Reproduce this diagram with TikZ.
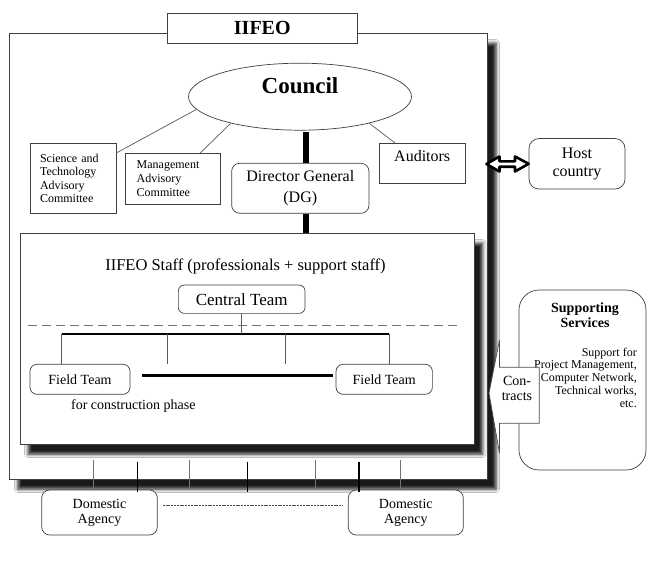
\documentclass[tikz,border=0pt]{standalone}
\usepackage{fontspec}
\setmainfont{Liberation Serif}
\usetikzlibrary{shadows.blur,calc,shapes.geometric}
\newcommand{\fsz}[2]{\fontsize{#1}{#2}\selectfont}
\tikzset{
  box/.style={draw=black!75, line width=0.7pt, fill=white, inner sep=0pt},
  rbox/.style={box, rounded corners=7pt},
  txt/.style={inner sep=0pt, align=center},
  thinline/.style={draw=black!65, line width=0.7pt},
  bar/.style={line width=6pt, draw=black},
  outershadow/.style={blur shadow={shadow xshift=9pt, shadow yshift=-10pt, shadow blur radius=3.5pt, shadow opacity=90}},
  innershadow/.style={blur shadow={shadow xshift=8pt, shadow yshift=-10pt, shadow blur radius=3.5pt, shadow opacity=90}},
  tickgray/.style={draw=black!55, line width=0.7pt},
  tickdark/.style={draw=black, line width=1.1pt},
}
\begin{document}
\begin{tikzpicture}[x=1pt,y=-1pt]
\useasboundingbox[fill=white] (0,0) rectangle (647,560);

% outer IIFEO box
\node[box, outershadow, minimum width=478pt, minimum height=446pt] (outer) at (248,256) {};
\node[box, minimum width=190pt, minimum height=30pt, font=\bfseries\fsz{20}{24}] (title) at (262.3,28.3) {IIFEO};

% council
\node[draw=black!75, line width=0.7pt, fill=white, ellipse, inner sep=0pt, minimum width=223pt, minimum height=67pt] (council) at (300,96.7) {};
\node[txt, font=\bfseries\fsz{23}{27}] (councillabel) at (300,86) {Council};

% committees
\node[box, minimum width=86pt, minimum height=70pt, text width=66pt, align=left, font=\fsz{12}{13.2}] (sci) at (73,178.3) {Science and\\Technology\\Advisory\\Committee};
\node[box, minimum width=95pt, minimum height=50.7pt, text width=73pt, align=left, font=\fsz{12}{14}] (mgmt) at (173.2,178.7) {Management\\Advisory\\Committee};
\node[rbox, rounded corners=8pt, minimum width=137.3pt, minimum height=50pt, align=center, font=\fsz{16}{21}] (dg) at (300.3,188.3) {Director General\\(DG)};
\node[box, minimum width=85.7pt, minimum height=40pt] (aud) at (422.2,163.3) {};
\node[txt, font=\fsz{16}{18}] (audlabel) at (422.2,156) {Auditors};

% host country
\node[rbox, rounded corners=10pt, minimum width=96pt, minimum height=50.5pt, align=center, font=\fsz{16}{18}] (host) at (577,163.8) {Host\\country};

% council links
\draw[thinline] (council.187.5) -- ($(sci.north east)+(0,10)$);
\draw[thinline] (council.201) -- ($(mgmt.north)+(27,0)$);
\draw[thinline] (council.339) -- ($(aud.north west)+(16,0)$);

% staff box
\node[box, innershadow, minimum width=454.5pt, minimum height=211pt] (staff) at (247.25,338.5) {};
\node[txt, font=\fsz{16.5}{19}] (stafflabel) at (245.5,266.7) {IIFEO Staff (professionals + support staff)};

% thick bars
\coordinate (bartop) at (305.5,131.5);
\draw[bar] (bartop) -- (bartop |- dg.north);
\draw[bar] (bartop |- dg.south) -- (bartop |- staff.north);

% double arrow to host
\coordinate (dl) at (486.5,164);
\coordinate (dr) at (host.west);
\draw[line width=2.6pt, line join=round, fill=white]
  (dl) -- (499.5,156.5) -- (499.5,161.3) -- (515,161.3) -- (515,156.5) -- (dr)
  -- (515,171.5) -- (515,166.7) -- (499.5,166.7) -- (499.5,171.5) -- cycle;

% central team and field teams
\node[rbox, rounded corners=6pt, minimum width=126.7pt, minimum height=28.3pt, font=\fsz{17}{19}] (central) at (241.7,299.2) {Central Team};
\coordinate (dashL) at (28,325.7);
\coordinate (dashR) at (458,325.7);
\draw[draw=black!55, line width=0.7pt, dash pattern=on 9pt off 5pt] (dashL) -- (dashR);
\coordinate (hbarL) at (61.7,333.7);
\coordinate (hbarR) at (389.3,333.7);
\draw[line width=2.3pt] (hbarL) -- (hbarR);
\draw[thinline] (central.south) -- (central.south |- hbarL);

\node[rbox, minimum width=100pt, minimum height=30pt, font=\fsz{14}{16}] (field1) at (80,379.3) {Field Team};
\node[rbox, minimum width=96.3pt, minimum height=30pt, font=\fsz{14}{16}] (field2) at (384.2,379.3) {Field Team};
\coordinate (drop2) at (167.7,333.7);
\coordinate (drop3) at (285,333.7);
\draw[thinline] (hbarL) -- (hbarL |- field1.north);
\draw[thinline] (hbarR) -- (hbarR |- field2.north);
\draw[thinline] (drop2) -- (drop2 |- field1.north);
\draw[thinline] (drop3) -- (drop3 |- field2.north);
\coordinate (flL) at (141.7,375.7);
\coordinate (flR) at (333.3,375.7);
\draw[line width=3pt] (flL) -- (flR);
\node[txt, font=\fsz{14}{16}] (constr) at (133.3,405.7) {for construction phase};

% supporting services
\node[box, rounded corners=20pt, minimum width=127pt, minimum height=180pt] (supp) at (582.5,380) {};
\node[txt, font=\bfseries\fsz{14}{15}] (supphead) at (585,315.5) {Supporting\\Services};
\node[txt, align=right, anchor=east, font=\fsz{12}{12.7}] (supptext) at (637,377.5) {Support for\\Project Management,\\Computer Network,\\Technical works,\\etc.};

% contracts arrow
\coordinate (ctip) at (489,393);
\draw[draw=black!70, line width=0.7pt, fill=white]
  (ctip) -- (499.5,340) -- (499.5,367.3) -- (539.3,367.3) -- (539.3,423.3)
  -- (499.5,423.3) -- (499.5,453.3) -- cycle;
\node[txt, font=\fsz{14}{15}] (contracts) at (517,388) {Con-\\tracts};

% domestic agencies
\node[rbox, rounded corners=8pt, minimum width=115.6pt, minimum height=45pt, align=center, font=\fsz{14}{15}] (dom1) at (99.5,512.5) {Domestic\\Agency};
\node[rbox, rounded corners=8pt, minimum width=115pt, minimum height=45pt, align=center, font=\fsz{14}{15}] (dom2) at (405.8,512.5) {Domestic\\Agency};
\coordinate (domL) at (162.7,505);
\coordinate (domR) at (343.3,505);
\draw[draw=black!70, line width=0.8pt, dash pattern=on 2pt off 0.8pt] (domL) -- (domR);

% ticks
\foreach \x [count=\i] in {93.3,189,315.7,400} {
  \coordinate (tg\i) at (\x,460);
  \draw[tickgray] (tg\i) -- (\x,489.5);
}
\foreach \x [count=\i] in {137.3,247.7,359} {
  \coordinate (td\i) at (\x,461.5);
  \draw[tickdark] (td\i) -- (\x,491.5);
}
\end{tikzpicture}
\end{document}
